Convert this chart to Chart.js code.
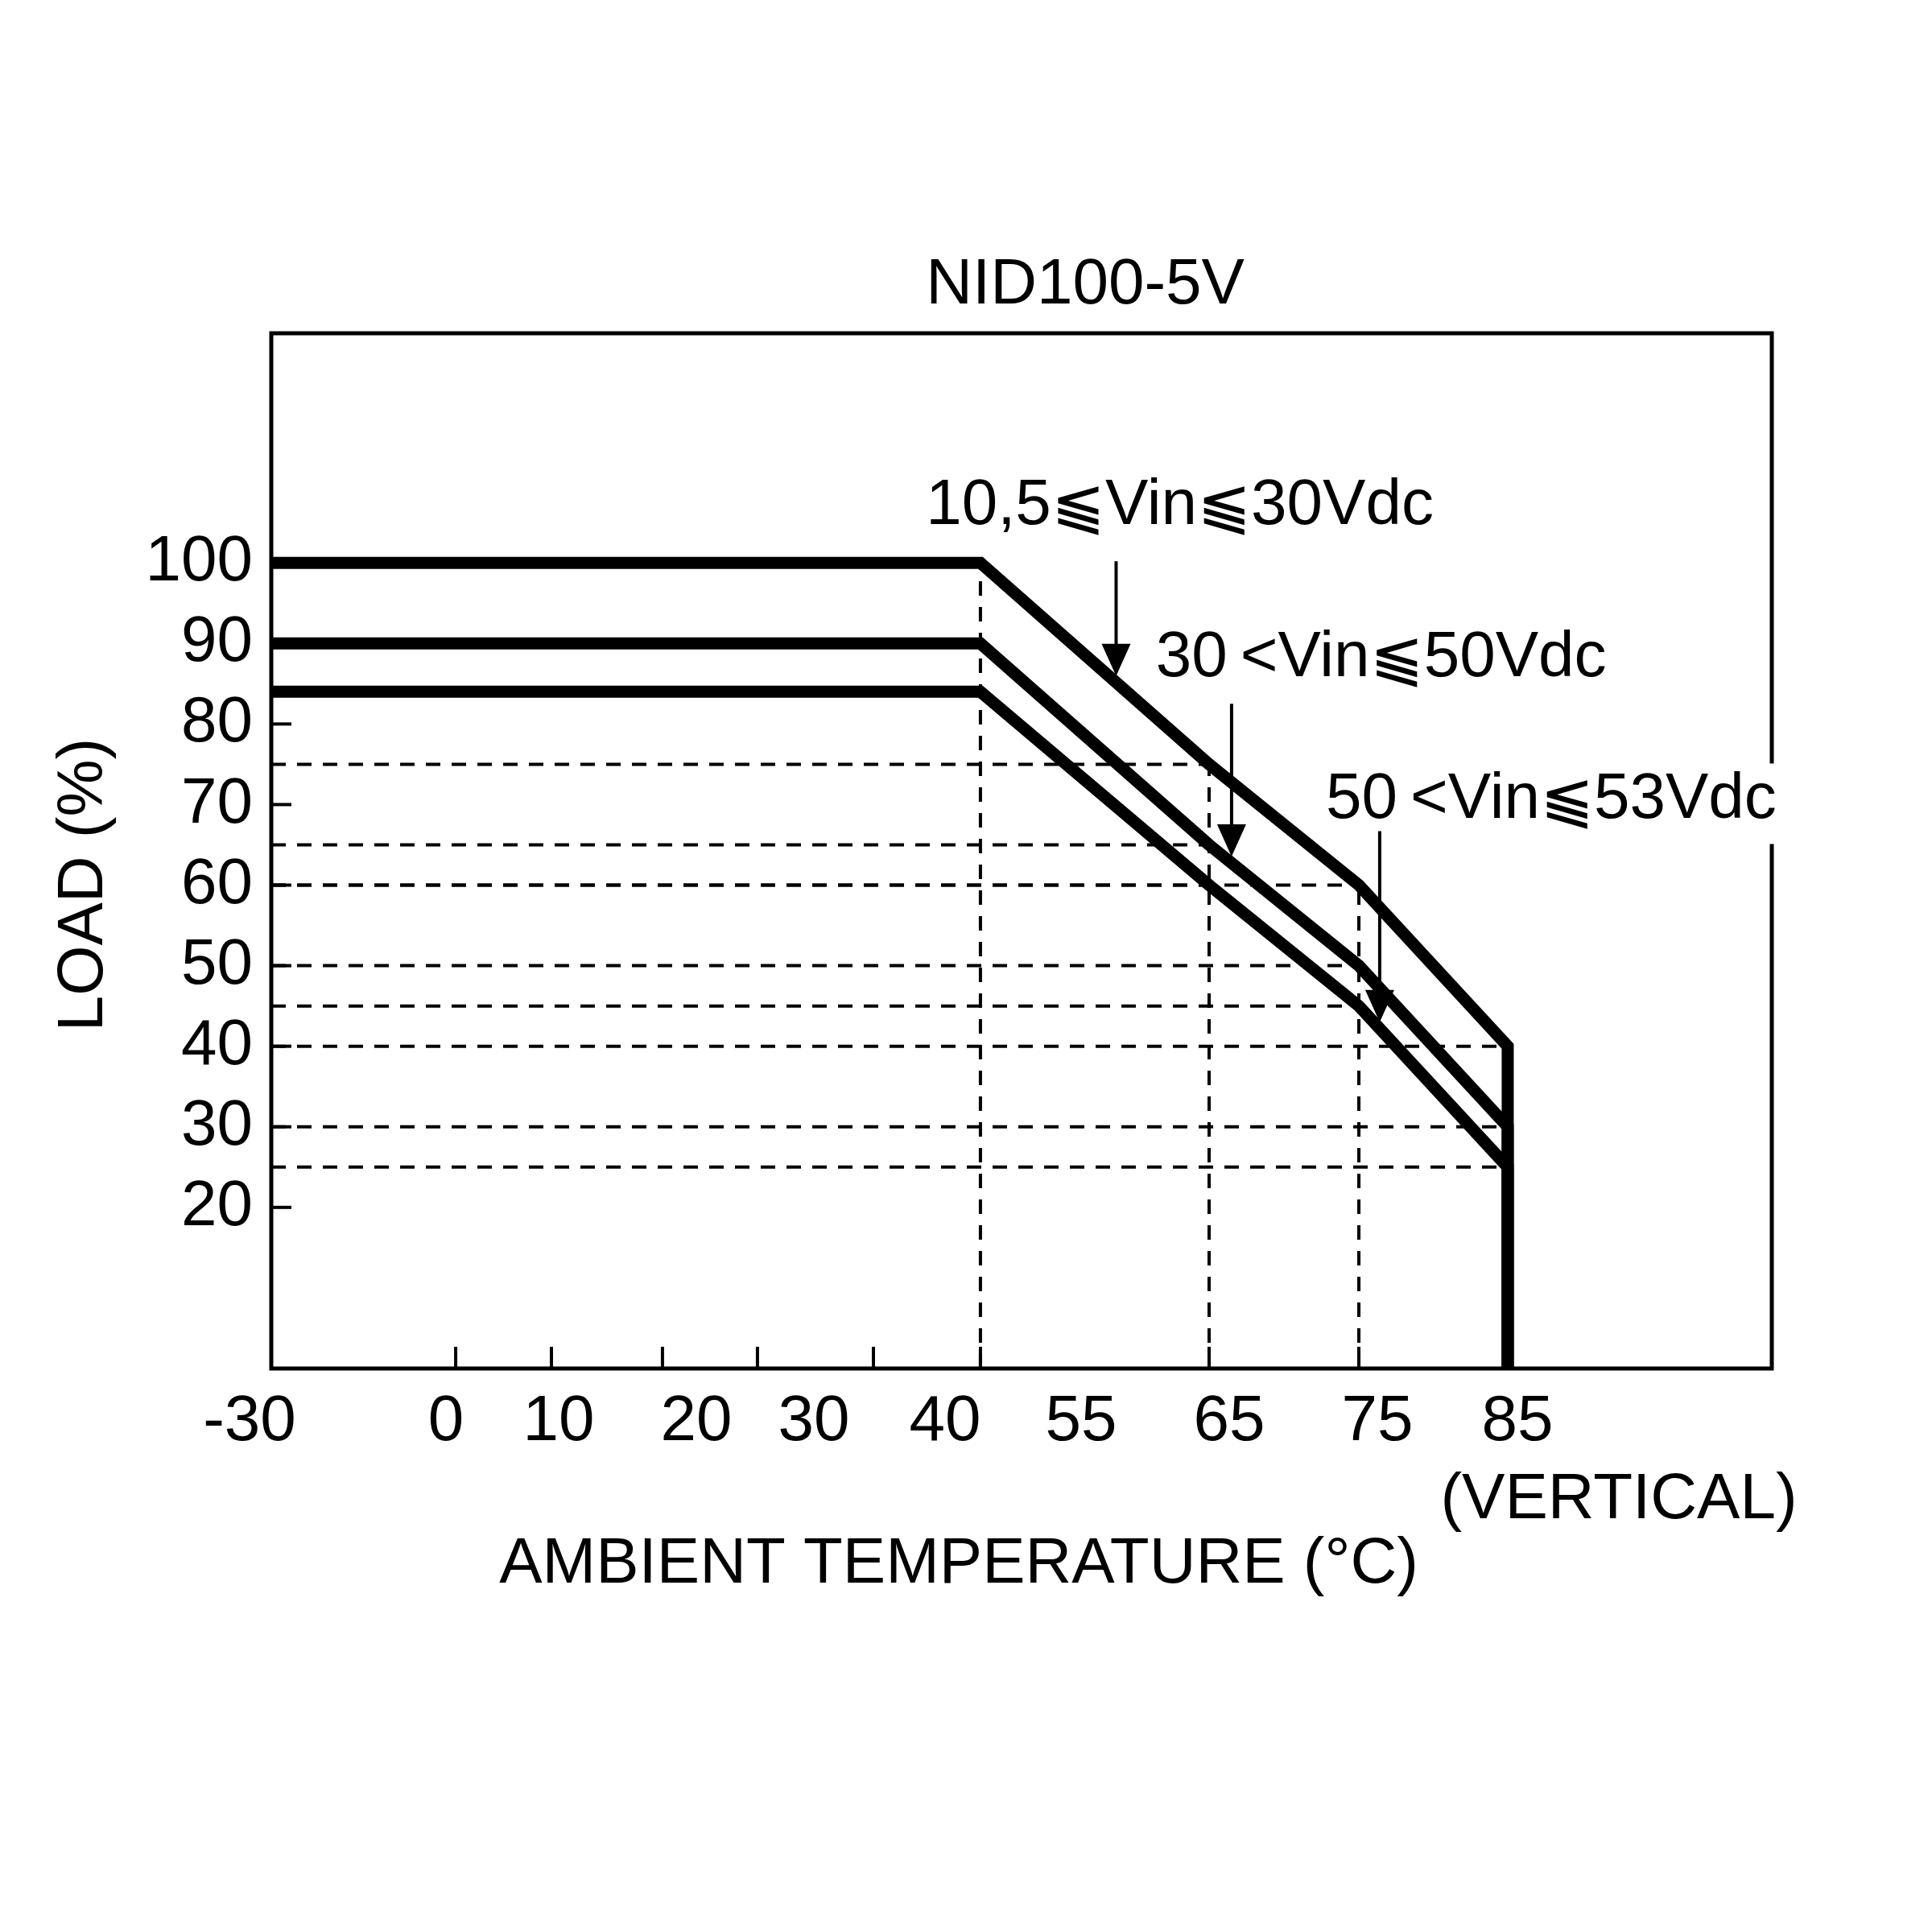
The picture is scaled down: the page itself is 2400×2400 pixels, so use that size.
<!DOCTYPE html>
<html>
<head>
<meta charset="utf-8">
<title>NID100-5V</title>
<script src="https://cdn.jsdelivr.net/npm/chart.js@4.4.1/dist/chart.umd.min.js"></script>
<style>
  html, body { margin: 0; padding: 0; background: #fff; }
  canvas { display: block; }
</style>
</head>
<body>
<canvas id="grafico" width="2400" height="2400"></canvas>
<script>
// data
const temps = [-30, 50, 65, 75, 85, 85];
const load1 = [100, 100, 75, 60, 40, 0];  // 10,5 ⫹ Vin ⫹ 30Vdc
const load2 = [90, 90, 65, 50, 30, 0];    // 30 < Vin ⫹ 50Vdc
const load3 = [84, 84, 60, 45, 25, 0];    // 50 < Vin ⫹ 53Vdc
const curveLabels = ['10,5⫹Vin⫹30Vdc', '30\u2009<Vin⫹50Vdc', '50\u2009<Vin⫹53Vdc'];

const xTickLabels = [-30, 0, 10, 20, 30, 40, 55, 65, 75, 85];
const xTickMarks = [0, 10, 20, 30, 40, 50, 65, 75];
const yTickLabels = [20, 30, 40, 50, 60, 70, 80, 90, 100];

const series = [load1, load2, load3];
const family = '"Liberation Sans", Arial, "DejaVu Sans", sans-serif';
Chart.defaults.font.family = family;
Chart.defaults.color = '#000';

// the drawing's temperature axis is not uniform: value -> fraction of plot width
const knots = {
  x:  [[-30, 0], [0, 0.1229], [10, 0.1867], [20, 0.2607], [30, 0.3240], [40, 0.4013],
       [50, 0.4726], [65, 0.6250], [75, 0.7248], [85, 0.8240], [102.7, 1]],
  xl: [[-30, -0.0145], [0, 0.1164], [10, 0.1915], [20, 0.2833], [30, 0.3616], [40, 0.4490],
       [55, 0.5397], [65, 0.6384], [75, 0.7371], [85, 0.8305], [102.7, 1]]
};

function interp(table, v, from, to) {
  for (let i = 1; i < table.length; i++) {
    if (v <= table[i][from] || i === table.length - 1) {
      const a = table[i - 1], b = table[i];
      return a[to] + (v - a[from]) * (b[to] - a[to]) / (b[from] - a[from]);
    }
  }
}

class PiecewiseScale extends Chart.LinearScale {
  getPixelForValue(v) {
    return this.getPixelForDecimal(interp(knots[this.id], v, 0, 1));
  }
  getValueForPixel(p) {
    return interp(knots[this.id], this.getDecimalForPixel(p), 1, 0);
  }
}
PiecewiseScale.id = 'piecewise';
PiecewiseScale.defaults = Chart.LinearScale.defaults;
Chart.register(PiecewiseScale);

// load of a curve at a temperature (straight segments between the points)
function loadAt(loads, t) {
  for (let i = 1; i < temps.length; i++) {
    if (t <= temps[i]) {
      return loads[i - 1] + (t - temps[i - 1]) * (loads[i] - loads[i - 1]) / (temps[i] - temps[i - 1]);
    }
  }
  return loads[loads.length - 1];
}

// annotations: arrow temperature, arrow top load, text left temperature, text load
const notes = [
  { arrowT: 58.9, arrowTop: 100.2, textT: 44.9, textY: 107.0 },
  { arrowT: 66.5, arrowTop: 82.5,  textT: 61.5, textY: 88.1 },
  { arrowT: 76.4, arrowTop: 66.7,  textT: 72.8, textY: 70.6, box: true }
];

const drawing = {
  id: 'drawing',
  beforeDraw(chart) {
    const c = chart.ctx;
    c.save();
    c.fillStyle = '#fff';
    c.fillRect(0, 0, chart.width, chart.height);
    c.restore();
  },
  beforeDatasetsDraw(chart) {
    const c = chart.ctx, a = chart.chartArea;
    const x = chart.scales.x, y = chart.scales.y;
    c.save();
    c.strokeStyle = '#000';
    c.lineWidth = 4;
    c.setLineDash([18, 14]);
    // horizontal guides to the breakpoints at 65, 75, 85
    for (let j = 2; j <= 4; j++) {
      series.forEach(loads => {
        const py = y.getPixelForValue(loads[j]);
        c.beginPath();
        c.moveTo(a.left, py);
        c.lineTo(x.getPixelForValue(temps[j]), py);
        c.stroke();
      });
    }
    // vertical guides at 50, 65, 75
    for (let j = 1; j <= 3; j++) {
      const px = x.getPixelForValue(temps[j]);
      c.beginPath();
      c.moveTo(px, a.bottom);
      c.lineTo(px, y.getPixelForValue(Math.max(load1[j], load2[j], load3[j])));
      c.stroke();
    }
    c.setLineDash([]);
    // inward tick marks
    yTickLabels.forEach(v => {
      const py = y.getPixelForValue(v);
      c.beginPath();
      c.moveTo(a.left, py);
      c.lineTo(a.left + 25, py);
      c.stroke();
    });
    xTickMarks.forEach(v => {
      const px = x.getPixelForValue(v);
      c.beginPath();
      c.moveTo(px, a.bottom);
      c.lineTo(px, a.bottom - 27);
      c.stroke();
    });
    // plot frame
    c.lineWidth = 5;
    c.strokeRect(a.left, a.top, a.right - a.left, a.bottom - a.top);
    c.restore();
  },
  afterDraw(chart) {
    const c = chart.ctx;
    const x = chart.scales.x, y = chart.scales.y;
    c.save();
    c.fillStyle = '#000';
    c.strokeStyle = '#000';
    c.font = '80px ' + family;
    c.textBaseline = 'middle';

    notes.forEach((n, i) => {
      const tx = x.getPixelForValue(n.textT);
      const ty = y.getPixelForValue(n.textY);
      const w = c.measureText(curveLabels[i]).width;
      if (n.box) {
        c.fillStyle = '#fff';
        c.fillRect(tx - 8, ty - 45, w + 16, 100);
        c.fillStyle = '#000';
      }
      c.textAlign = 'left';
      c.fillText(curveLabels[i], tx, ty);

      const ax = x.getPixelForValue(n.arrowT);
      const tip = y.getPixelForValue(loadAt(series[i], n.arrowT)) - 8;
      c.lineWidth = 4;
      c.beginPath();
      c.moveTo(ax, y.getPixelForValue(n.arrowTop));
      c.lineTo(ax, tip - 30);
      c.stroke();
      c.beginPath();
      c.moveTo(ax, tip);
      c.lineTo(ax - 18, tip - 40);
      c.lineTo(ax + 18, tip - 40);
      c.closePath();
      c.fill();
    });

    c.textAlign = 'center';
    c.fillText('NID100-5V', 1348, 355);
    c.fillText('AMBIENT TEMPERATURE (°C)', 1191, 1944);
    c.fillText('(VERTICAL)', 2011, 1864);
    c.translate(105, 1099);
    c.rotate(-Math.PI / 2);
    c.fillText('LOAD (%)', 0, 0);
    c.restore();
  }
};

new Chart(document.getElementById('grafico'), {
  type: 'line',
  data: {
    datasets: series.map((loads, i) => ({
      label: curveLabels[i],
      data: temps.map((t, j) => ({ x: t, y: loads[j] })),
      xAxisID: 'x',
      yAxisID: 'y',
      borderColor: '#000',
      borderWidth: 15,
      borderJoinStyle: 'miter',
      borderCapStyle: 'butt',
      pointRadius: 0,
      tension: 0,
      fill: false
    }))
  },
  options: {
    responsive: false,
    animation: false,
    devicePixelRatio: 1,
    events: [],
    layout: { padding: { top: 414, right: 199, bottom: 0, left: 0 } },
    plugins: {
      legend: { display: false },
      tooltip: { enabled: false },
      title: { display: false }
    },
    scales: {
      x: {
        type: 'piecewise', position: 'bottom', min: -30, max: 102.7,
        display: false
      },
      xl: {
        type: 'piecewise', position: 'bottom', min: -30, max: 102.7,
        afterBuildTicks: s => { s.ticks = xTickLabels.map(v => ({ value: v })); },
        afterFit: s => { s.height = 700; },
        grid: { display: false, drawTicks: false },
        border: { display: false },
        ticks: {
          font: { size: 80 }, color: '#000', padding: 19,
          autoSkip: false, maxRotation: 0, minRotation: 0,
          callback: v => String(v)
        }
      },
      y: {
        min: 0, max: 128.5,
        afterBuildTicks: s => { s.ticks = yTickLabels.map(v => ({ value: v })); },
        afterFit: s => { s.width = 337; },
        grid: { display: false, drawTicks: false },
        border: { display: false },
        ticks: { font: { size: 80 }, color: '#000', padding: 23, callback: v => String(v) }
      }
    }
  },
  plugins: [drawing]
});
</script>
</body>
</html>
